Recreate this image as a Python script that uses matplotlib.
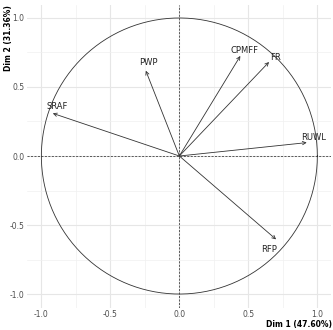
import matplotlib.pyplot as plt
import numpy as np
from matplotlib.ticker import MultipleLocator

# variable coordinates on Dim 1 / Dim 2
variables = ["SRAF", "PWP", "CPMFF", "FR", "RUWL", "RFP"]
dim1 = [-0.917, -0.243, 0.442, 0.650, 0.923, 0.701]
dim2 = [0.309, 0.618, 0.725, 0.681, 0.097, -0.604]
# label nudges (data units)
lab_dx = [0.03, 0.02, 0.03, 0.05, 0.05, -0.05]
lab_dy = [0.05, 0.06, 0.04, 0.03, 0.04, -0.07]

fig = plt.figure(figsize=(3.33, 3.30), dpi=100)
ax = fig.add_axes([27/333, 22.3/330, 304/333, 302.7/330])

ax.set_xlim(-1.104, 1.099)
ax.set_ylim(-1.099, 1.094)

ax.xaxis.set_major_locator(MultipleLocator(0.5))
ax.yaxis.set_major_locator(MultipleLocator(0.5))
ax.xaxis.set_minor_locator(MultipleLocator(0.25))
ax.yaxis.set_minor_locator(MultipleLocator(0.25))
ax.grid(which='major', color='#e6e6e6', linewidth=0.8)
ax.grid(which='minor', color='#f0f0f0', linewidth=0.5)
ax.set_axisbelow(True)
for s in ax.spines.values():
    s.set_visible(False)
ax.tick_params(which='both', length=0, labelsize=5.5, labelcolor='#4d4d4d', pad=2)
ax.set_xticks([-1.0, -0.5, 0.0, 0.5, 1.0])
ax.set_xticklabels(["-1.0", "-0.5", "0.0", "0.5", "1.0"])
ax.set_yticks([-1.0, -0.5, 0.0, 0.5, 1.0])
ax.set_yticklabels(["-1.0", "-0.5", "0.0", "0.5", "1.0"])

t = np.linspace(0, 2*np.pi, 400)
ax.plot(np.cos(t), np.sin(t), color='#333333', linewidth=0.6)
ax.axhline(0, color='#222222', linestyle=(0, (3, 2)), linewidth=0.5)
ax.axvline(0, color='#222222', linestyle=(0, (3, 2)), linewidth=0.5)

for i in range(len(variables)):
    ax.annotate("", xy=(dim1[i], dim2[i]), xytext=(0, 0),
                arrowprops=dict(arrowstyle='->', color='#333333', lw=0.6,
                                shrinkA=0, shrinkB=0, mutation_scale=6))
    ax.text(dim1[i] + lab_dx[i], dim2[i] + lab_dy[i], variables[i],
            fontsize=6, ha='center', va='center', color='#222222')

fig.text(332/333, 1 - 324/330, "Dim 1 (47.60%)", fontsize=5.5, fontweight='bold',
         ha='right', va='center')
fig.text(9/333, 1 - 5/330, "Dim 2 (31.36%)", fontsize=5.5, fontweight='bold',
         ha='center', va='top', rotation=90)

fig.savefig("out.png", dpi=100)
